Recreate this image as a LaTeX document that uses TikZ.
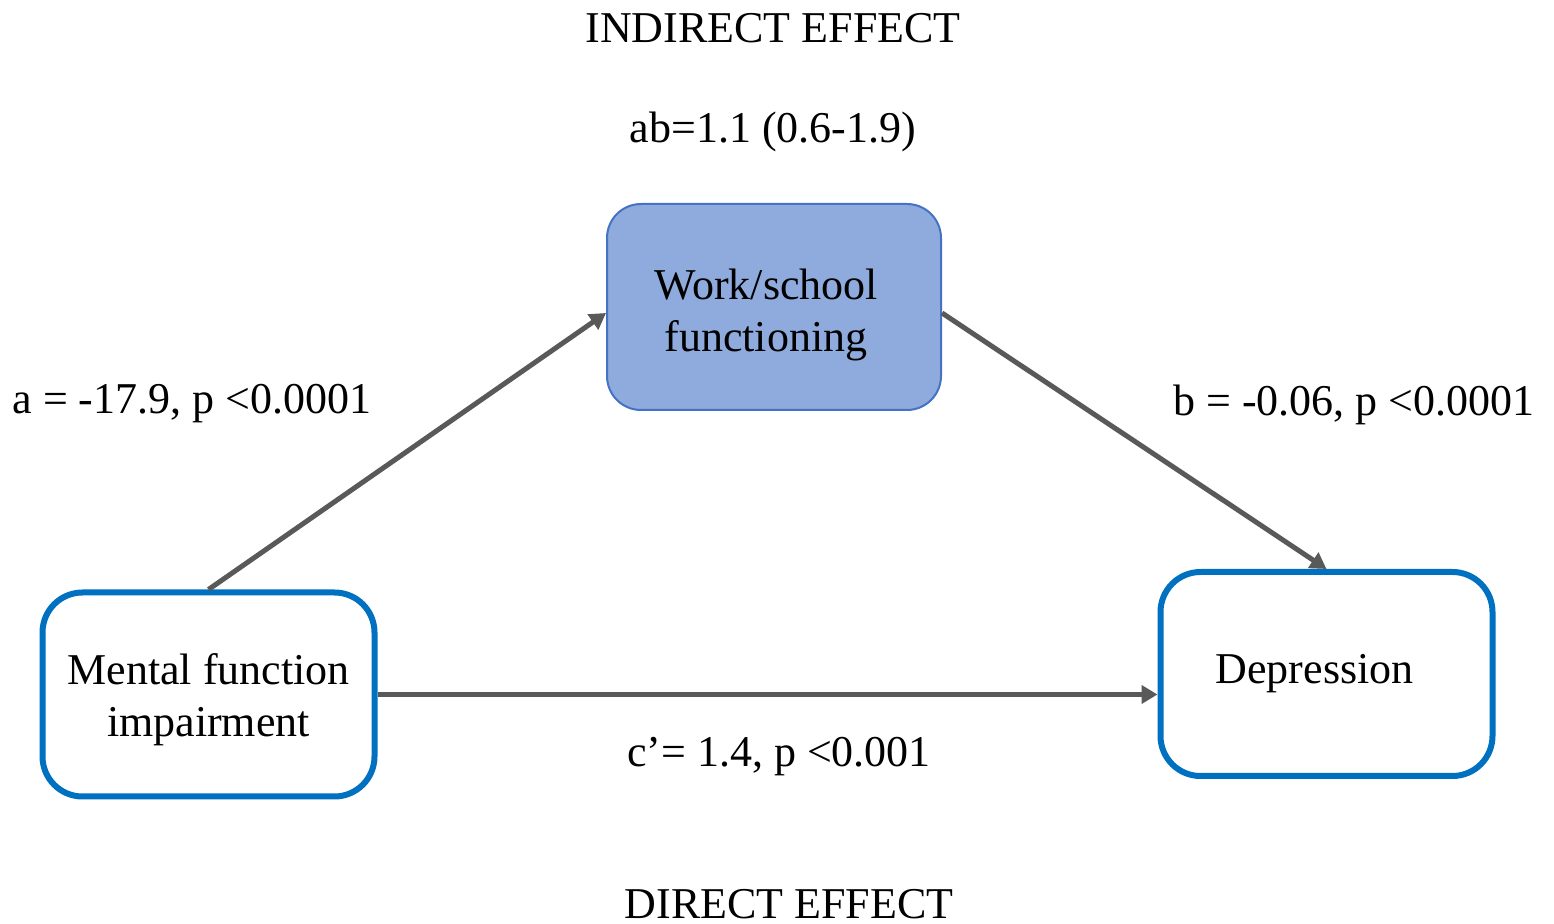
\documentclass[tikz,border=0pt]{standalone}
\usepackage{fontspec}
\setmainfont{Liberation Serif}
\usepackage{xcolor}
\usepackage{tikz}
\usetikzlibrary{positioning,arrows.meta,calc}

\definecolor{pathgray}{HTML}{595959}
\definecolor{boxblue}{HTML}{0070C0}
\definecolor{medfill}{HTML}{8FAADC}
\definecolor{medline}{HTML}{4472C4}

\begin{document}
\begin{tikzpicture}[x=0.5pt, y=-0.5pt, font=\fontsize{22}{26}\selectfont,
  >={Triangle[length=8pt, width=9pt]},
  var/.style={draw=boxblue, line width=3pt, rounded corners=20pt, fill=white,
    minimum width=166pt, minimum height=102pt},
  med/.style={draw=medline, line width=1pt, rounded corners=17pt, fill=medfill,
    minimum width=167pt, minimum height=103pt},
  txt/.style={align=center},
  path/.style={->, draw=pathgray, line width=2.5pt},
  lab/.style={anchor=base}]
\useasboundingbox (0,0) rectangle (1554,924);
% boxes
\node[med] (work) at (774,307) {};
\node[var] (ment) at (208.5,694.5) {};
\node[var] (dep) at (1326.5,674) {};
\node[txt] (worktxt) at ($(work)+(-8,8)$) {Work/school\\functioning};
\node[txt] (menttxt) at ($(ment)+(0,5)$) {Mental function\\impairment};
\node[txt] (deptxt) at ($(dep)+(-12,0)$) {Depression};
% paths
\draw[path] (ment.north) -- ($(work.west)+(0,6)$);
\draw[path] ($(work.east)+(0,6)$) -- (dep.north);
\draw[path] (ment.east) -- (ment.east -| dep.west);
% labels
\node[lab] (indir) at (773,43) {INDIRECT EFFECT};
\node[lab] (ab) at (773,143) {ab=1.1 (0.6-1.9)};
\node[lab] (alab) at (192,414) {a = -17.9, p <0.0001};
\node[lab] (blab) at (1354,416) {b = -0.06, p <0.0001};
\node[lab] (clab) at (779,767) {c’= 1.4, p <0.001};
\node[lab] (dir) at (789,918) {DIRECT EFFECT};
\end{tikzpicture}
\end{document}
